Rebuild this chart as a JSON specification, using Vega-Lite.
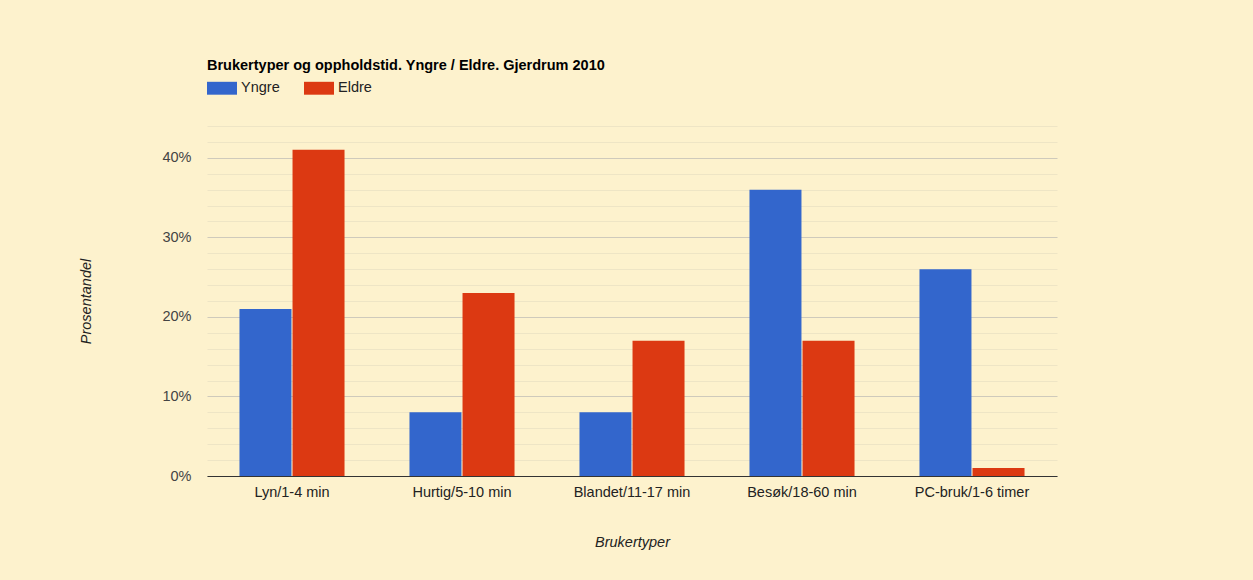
{
  "$schema": "https://vega.github.io/schema/vega-lite/v6.json",
  "width": 850,
  "height": 350,
  "autosize": {"type": "none"},
  "padding": {"left": 207, "top": 126, "right": 196, "bottom": 104},
  "background": "#fdf2cd",
  "config": {
    "view": {"stroke": null},
    "font": "Liberation Sans"
  },
  "title": {
    "text": "Brukertyper og oppholdstid. Yngre / Eldre. Gjerdrum 2010",
    "anchor": "start",
    "frame": "group",
    "font": "Liberation Sans",
    "fontSize": 14.5,
    "fontWeight": "bold",
    "color": "#000000",
    "offset": 0
  },
  "data": {
    "values": [
      {"type": "Lyn/1-4 min", "group": "Yngre", "pct": 21},
      {"type": "Lyn/1-4 min", "group": "Eldre", "pct": 41},
      {"type": "Hurtig/5-10 min", "group": "Yngre", "pct": 8},
      {"type": "Hurtig/5-10 min", "group": "Eldre", "pct": 23},
      {"type": "Blandet/11-17 min", "group": "Yngre", "pct": 8},
      {"type": "Blandet/11-17 min", "group": "Eldre", "pct": 17},
      {"type": "Besøk/18-60 min", "group": "Yngre", "pct": 36},
      {"type": "Besøk/18-60 min", "group": "Eldre", "pct": 17},
      {"type": "PC-bruk/1-6 timer", "group": "Yngre", "pct": 26},
      {"type": "PC-bruk/1-6 timer", "group": "Eldre", "pct": 1}
    ]
  },
  "mark": {"type": "bar"},
  "encoding": {
    "x": {
      "field": "type",
      "type": "nominal",
      "sort": null,
      "scale": {"paddingInner": 0.382, "paddingOuter": 0.191},
      "axis": {
        "title": "Brukertyper",
        "titleFont": "Liberation Sans",
        "titleFontStyle": "italic",
        "titleFontWeight": "normal",
        "titleFontSize": 14.5,
        "titleColor": "#222222",
        "titlePadding": 37,
        "labelAngle": 0,
        "labelFont": "Liberation Sans",
        "labelFontSize": 14.5,
        "labelColor": "#222222",
        "labelPadding": 9,
        "ticks": false,
        "domainColor": "#333333",
        "domainWidth": 1,
        "grid": false
      }
    },
    "xOffset": {
      "field": "group",
      "type": "nominal",
      "scale": {"domain": ["Yngre", "Eldre"], "paddingInner": 0.02}
    },
    "y": {
      "field": "pct",
      "type": "quantitative",
      "scale": {"domain": [0, 44], "nice": false},
      "axis": {
        "title": "Prosentandel",
        "titleFont": "Liberation Sans",
        "titleFontStyle": "italic",
        "titleFontWeight": "normal",
        "titleFontSize": 14.5,
        "titleColor": "#222222",
        "titleX": -121,
        "titleY": 175,
        "titleAngle": -90,
        "titleAlign": "center",
        "titleBaseline": "middle",
        "values": [0, 2, 4, 6, 8, 10, 12, 14, 16, 18, 20, 22, 24, 26, 28, 30, 32, 34, 36, 38, 40, 42, 44],
        "labelExpr": "datum.value % 10 === 0 ? datum.value + '%' : ''",
        "labelFont": "Liberation Sans",
        "labelFontSize": 14.5,
        "labelColor": "#444444",
        "labelPadding": 16,
        "ticks": false,
        "domain": false,
        "grid": true,
        "gridColor": {"condition": {"test": "datum.value % 10 === 0", "value": "#cfcabb"}, "value": "#eee5c5"},
        "gridWidth": 1
      }
    },
    "color": {
      "field": "group",
      "type": "nominal",
      "scale": {"domain": ["Yngre", "Eldre"], "range": ["#3366cc", "#dc3912"]},
      "legend": {
        "title": null,
        "orient": "top",
        "direction": "horizontal",
        "offset": 31,
        "symbolType": "M-1,-0.43H1V0.43H-1Z",
        "symbolSize": 900,
        "symbolStrokeWidth": 0,
        "symbolOpacity": 1,
        "labelFont": "Liberation Sans",
        "labelFontSize": 14.5,
        "labelColor": "#222222",
        "labelOffset": 4,
        "columnPadding": 24
      }
    }
  }
}
